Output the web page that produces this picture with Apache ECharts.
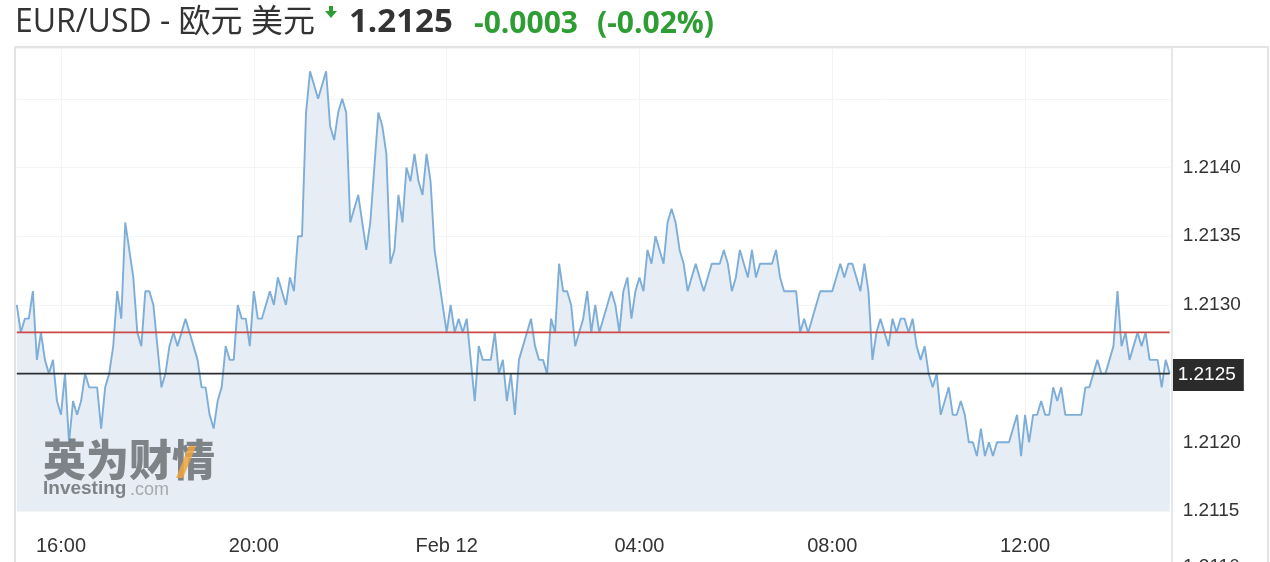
<!DOCTYPE html>
<html>
<head>
<meta charset="utf-8">
<script src="https://cdn.jsdelivr.net/npm/echarts@6/dist/echarts.min.js"></script>
<style>
html,body{margin:0;padding:0;background:#fff;}
#chart{width:1270px;height:562px;}
</style>
</head>
<body>
<div id="chart"></div>
<script>
// ---- data ----
const titleMain = 'EUR/USD - 欧元 美元';
const lastPrice = 1.2125;
const prevClose = 1.2128;
const changeText = '-0.0003';
const changePctText = '(-0.02%)';

// 5-minute closes from 15:05 (Feb 11) to 15:00 (Feb 12)
const startTime = '15:05';
const prices = [
  1.2130,1.2128,1.2129,1.2129,1.2131,1.2126,1.2128,1.2126,1.2125,1.2126,
  1.2123,1.2122,1.2125,1.2120,1.2123,1.2122,1.2123,1.2125,1.2124,1.2124,
  1.2124,1.2121,1.2124,1.2125,1.2127,1.2131,1.2129,1.2136,1.2134,1.2132,
  1.2128,1.2127,1.2131,1.2131,1.2130,1.2127,1.2124,1.2125,1.2127,1.2128,
  1.2127,1.2128,1.2129,1.2128,1.2127,1.2126,1.2124,1.2124,1.2122,1.2121,
  1.2123,1.2124,1.2127,1.2126,1.2126,1.2130,1.2129,1.2129,1.2127,1.2131,
  1.2129,1.2129,1.2130,1.2131,1.2130,1.2132,1.2131,1.2130,1.2132,1.2131,
  1.2135,1.2135,1.2144,1.2147,1.2146,1.2145,1.2146,1.2147,1.2143,1.2142,
  1.2144,1.2145,1.2144,1.2136,1.2137,1.2138,1.2136,1.2134,1.2136,1.2140,
  1.2144,1.2143,1.2141,1.2133,1.2134,1.2138,1.2136,1.2140,1.2139,1.2141,
  1.2139,1.2138,1.2141,1.2139,1.2134,1.2132,1.2130,1.2128,1.2130,1.2128,
  1.2129,1.2128,1.2129,1.2126,1.2123,1.2127,1.2126,1.2126,1.2126,1.2128,
  1.2125,1.2126,1.2123,1.2125,1.2122,1.2126,1.2127,1.2128,1.2129,1.2127,
  1.2126,1.2126,1.2125,1.2129,1.2128,1.2133,1.2131,1.2131,1.2130,1.2127,
  1.2128,1.2129,1.2131,1.2128,1.2130,1.2128,1.2129,1.2130,1.2131,1.2130,
  1.2128,1.2131,1.2132,1.2129,1.2131,1.2132,1.2131,1.2134,1.2133,1.2135,
  1.2134,1.2133,1.2136,1.2137,1.2136,1.2134,1.2133,1.2131,1.2132,1.2133,
  1.2132,1.2131,1.2132,1.2133,1.2133,1.2133,1.2134,1.2133,1.2131,1.2132,
  1.2134,1.2133,1.2132,1.2134,1.2132,1.2133,1.2133,1.2133,1.2133,1.2134,
  1.2132,1.2131,1.2131,1.2131,1.2131,1.2128,1.2129,1.2128,1.2129,1.2130,
  1.2131,1.2131,1.2131,1.2131,1.2132,1.2133,1.2132,1.2133,1.2133,1.2132,
  1.2131,1.2133,1.2131,1.2126,1.2128,1.2129,1.2128,1.2127,1.2129,1.2128,
  1.2129,1.2129,1.2128,1.2129,1.2127,1.2126,1.2127,1.2125,1.2124,1.2125,
  1.2122,1.2123,1.2124,1.2122,1.2122,1.2123,1.2122,1.2120,1.2120,1.2119,
  1.2121,1.2119,1.2120,1.2119,1.2120,1.2120,1.2120,1.2120,1.2121,1.2122,
  1.2119,1.2122,1.2120,1.2122,1.2122,1.2123,1.2122,1.2122,1.2124,1.2123,
  1.2124,1.2122,1.2122,1.2122,1.2122,1.2122,1.2124,1.2124,1.2125,1.2126,
  1.2125,1.2125,1.2126,1.2127,1.2131,1.2127,1.2128,1.2126,1.2127,1.2128,
  1.2127,1.2128,1.2126,1.2126,1.2126,1.2124,1.2126,1.2125
];

const tickTimes  = ['16:00','20:00','00:00','04:00','08:00','12:00'];
const tickLabels = ['16:00','20:00','Feb 12','04:00','08:00','12:00'];

const yMin = 1.2115, yMax = 1.21487, yStep = 0.0005;
const hiddenYLabels = ['1.2125','1.2145'];
const partialYLabel = '1.2110';

// categories: 5-minute timestamps
const categories = [];
(function(){
  const p = startTime.split(':');
  const m0 = (+p[0])*60 + (+p[1]);
  for (let i = 0; i < prices.length; i++) {
    const t = (m0 + i*5) % 1440;
    const h = Math.floor(t/60), mm = t%60;
    categories.push((h<10?'0':'')+h+':'+(mm<10?'0':'')+mm);
  }
})();
// horizontal reference levels (previous close / last price) across the session
const prevCloseLine = categories.map(() => prevClose);
const lastPriceLine = categories.map(() => lastPrice);

const GREEN = '#2e9e34';
const DARK = '#333333';
const AXIS_FONT = '"Liberation Sans", Arial, sans-serif';
const isTick = (idx, val) => tickTimes.indexOf(val) >= 0;

const chart = echarts.init(document.getElementById('chart'), null, {renderer:'canvas'});
chart.setOption({
  animation: false,
  grid: {left: 16.8, right: 100.3, top: 48, bottom: 51, containLabel: false},
  xAxis: {
    type: 'category',
    data: categories,
    boundaryGap: false,
    axisLine: {show: false},
    axisTick: {show: false, interval: isTick},
    axisLabel: {
      interval: isTick,
      formatter: v => tickLabels[tickTimes.indexOf(v)] || '',
      color: DARK, fontSize: 20, margin: 25, fontFamily: AXIS_FONT
    },
    splitLine: {show: true, interval: isTick, lineStyle: {color: '#f1f3f5', width: 1}}
  },
  yAxis: {
    type: 'value', position: 'right',
    min: yMin, max: yMax, interval: yStep,
    axisLine: {show: false}, axisTick: {show: false},
    axisLabel: {
      showMaxLabel: false,
      formatter: v => { const s = v.toFixed(4); return hiddenYLabels.indexOf(s) >= 0 || v > 1.21475 ? '' : s; },
      color: DARK, fontSize: 19, margin: 13, fontFamily: AXIS_FONT
    },
    splitLine: {show: true, lineStyle: {color: '#f3f4f6', width: 1}}
  },
  series: [
    {
      name: 'EUR/USD',
      type: 'line',
      data: prices,
      symbol: 'none',
      lineStyle: {color: '#7eaed8', width: 1.9},
      areaStyle: {color: '#e6edf4', opacity: 1},
      z: 2
    },
    {
      name: 'prevClose',
      type: 'line',
      data: prevCloseLine,
      symbol: 'none', silent: true,
      lineStyle: {color: '#cc4a45', width: 1.6},
      z: 3
    },
    {
      name: 'last',
      type: 'line',
      data: lastPriceLine,
      symbol: 'none', silent: true,
      lineStyle: {color: '#2a2f33', width: 1.6},
      z: 4,
      endLabel: {
        show: true, distance: 2, offset: [0, 1.5],
        formatter: () => lastPrice.toFixed(4),
        color: '#fff', backgroundColor: '#2b2b2b', fontSize: 19, fontFamily: AXIS_FONT,
        padding: [7, 8, 6, 6]
      }
    }
  ],
  graphic: [
    // frame
    {type:'rect', silent:true, z:-10, shape:{x:15, y:47, width:1253, height:530}, style:{fill:'none', stroke:'#e4e4e4', lineWidth:2}},
    {type:'line', silent:true, z:10, shape:{x1:1172, y1:48, x2:1172, y2:562}, style:{stroke:'#e6e6e6', lineWidth:2}},
    // header
    {type:'text', x:15, y:23, style:{text:titleMain, fill:DARK, font:'normal 32px "Open Sans","Noto Sans CJK SC",sans-serif', verticalAlign:'middle'}},
    {type:'polygon', shape:{points:[[329,6],[333,6],[333,11],[337,11],[331,18],[325,11],[329,11]]}, style:{fill:GREEN}},
    {type:'text', x:349, y:23, style:{text:lastPrice.toFixed(4), fill:DARK, font:'bold 33px "Open Sans",sans-serif', verticalAlign:'middle'}},
    {type:'text', x:474, y:24, style:{text:changeText, fill:GREEN, font:'bold 30px "Open Sans",sans-serif', verticalAlign:'middle'}},
    {type:'text', x:597, y:24, style:{text:changePctText, fill:GREEN, font:'bold 30px "Open Sans",sans-serif', verticalAlign:'middle'}},
    // watermark
    {type:'text', x:43, y:460, z:3, style:{text:'英为财情', fill:'rgba(100,104,108,0.8)', font:'900 43px "Noto Sans CJK SC",sans-serif', verticalAlign:'middle'}},
    {type:'polygon', z:4, shape:{points:[[176,478],[189,446],[196,446],[183,478]]}, style:{fill:'rgba(240,165,60,0.85)'}},
    {type:'text', x:43, y:489, z:3, style:{text:'Investing', fill:'rgba(100,104,108,0.8)', font:'bold 19px "Liberation Sans",Arial,sans-serif', verticalAlign:'middle'}},
    {type:'text', x:130, y:490, z:3, style:{text:'.com', fill:'rgba(130,134,138,0.65)', font:'normal 18px "Liberation Sans",Arial,sans-serif', verticalAlign:'middle'}},
    // partially visible axis label below
    {type:'text', x:1183, y:567, style:{text:partialYLabel, fill:DARK, font:'normal 19px "Liberation Sans",Arial,sans-serif', verticalAlign:'middle'}}
  ]
});
</script>
</body>
</html>
